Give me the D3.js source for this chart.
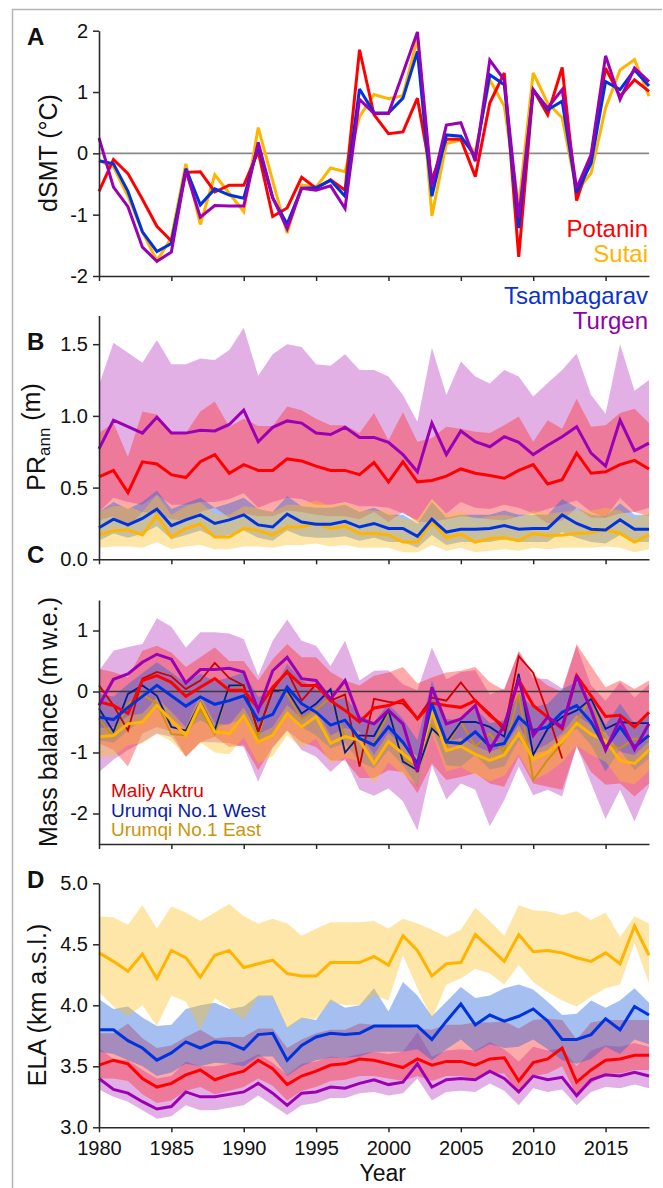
<!DOCTYPE html>
<html>
<head>
<meta charset="utf-8">
<script src="https://cdn.jsdelivr.net/npm/d3@7"></script>
<style>
  body { margin: 0; background: #fff; }
  svg { display: block; }
  text { font-family: "Liberation Sans", Arial, Helvetica, sans-serif; fill: #111; }
</style>
</head>
<body>
<svg id="fig" width="663" height="1188"></svg>
<script>
// ---------------- data (1980–2018) ----------------
const years = d3.range(1980, 2019);
const xTickYears = [1980, 1985, 1990, 1995, 2000, 2005, 2010, 2015];

// A: summer mean temperature anomaly (°C)
const potaninT = [-0.62,-0.10,-0.33,-0.75,-1.19,-1.43,-0.31,-0.30,-0.63,-0.52,-0.52,0.03,-1.03,-0.89,-0.39,-0.57,-0.43,-0.60,1.69,0.63,0.32,0.35,0.90,-0.43,0.23,0.23,-0.38,0.82,1.31,-1.69,1.04,0.63,1.40,-0.77,-0.05,1.39,0.93,1.20,1.01];
const sutaiT   = [-0.12,-0.22,-0.70,-1.28,-1.75,-1.38,-0.17,-1.16,-0.35,-0.65,-0.95,0.42,-0.45,-1.30,-0.52,-0.55,-0.24,-0.30,0.60,0.96,0.89,0.94,1.88,-1.02,0.16,0.22,0.03,1.20,0.77,-0.86,1.31,0.82,0.58,-0.62,-0.32,0.74,1.36,1.53,0.93];
const tsambT   = [-0.12,-0.17,-0.62,-1.28,-1.60,-1.47,-0.25,-0.84,-0.58,-0.68,-0.73,0.12,-0.73,-1.15,-0.57,-0.56,-0.44,-0.70,1.05,0.66,0.66,0.90,1.66,-0.70,0.30,0.28,-0.05,1.28,1.12,-1.22,1.04,0.71,0.85,-0.64,-0.16,1.17,1.04,1.36,1.10];
const turgenT  = [0.25,-0.55,-0.87,-1.53,-1.76,-1.61,-0.28,-1.04,-0.85,-0.86,-0.86,0.18,-0.72,-1.23,-0.57,-0.60,-0.53,-0.90,0.88,0.65,0.65,1.31,1.98,-0.54,0.46,0.50,-0.13,1.52,1.20,-1.05,1.03,0.74,1.04,-0.57,-0.02,1.59,0.88,1.39,1.17];

// B: annual precipitation (m), mean and range
const potaninPR    = [0.575,0.62,0.465,0.68,0.665,0.59,0.57,0.68,0.73,0.60,0.66,0.62,0.62,0.70,0.685,0.65,0.62,0.62,0.59,0.675,0.54,0.68,0.54,0.55,0.58,0.63,0.60,0.585,0.565,0.62,0.66,0.525,0.555,0.74,0.60,0.61,0.66,0.69,0.63];
const potaninPRhi  = [0.88,0.95,0.715,1.03,1.01,0.89,0.88,1.03,1.10,0.925,0.98,0.93,0.93,1.065,1.04,0.98,0.935,0.935,0.88,1.02,0.83,1.025,0.82,0.845,0.925,0.91,0.89,0.88,0.935,0.995,0.82,0.97,0.91,1.12,0.925,0.935,1.02,1.05,0.95];
const potaninPRlo  = [0.27,0.30,0.22,0.33,0.32,0.28,0.27,0.33,0.36,0.29,0.32,0.30,0.30,0.34,0.33,0.31,0.30,0.30,0.28,0.33,0.26,0.33,0.26,0.26,0.28,0.30,0.29,0.28,0.27,0.30,0.32,0.25,0.27,0.36,0.29,0.29,0.32,0.33,0.30];
const sutaiPR      = [0.17,0.20,0.205,0.17,0.305,0.155,0.215,0.245,0.155,0.155,0.215,0.20,0.17,0.225,0.225,0.25,0.215,0.23,0.18,0.18,0.17,0.12,0.12,0.26,0.15,0.175,0.12,0.145,0.15,0.13,0.18,0.165,0.17,0.18,0.185,0.205,0.18,0.12,0.17];
const sutaiPRhi    = [0.33,0.37,0.37,0.33,0.45,0.31,0.37,0.40,0.31,0.31,0.37,0.36,0.33,0.38,0.38,0.41,0.37,0.39,0.34,0.34,0.33,0.28,0.28,0.42,0.31,0.33,0.28,0.30,0.31,0.29,0.34,0.32,0.33,0.34,0.34,0.36,0.34,0.28,0.33];
const sutaiPRlo    = [0.08,0.09,0.09,0.08,0.12,0.07,0.09,0.10,0.07,0.07,0.09,0.09,0.08,0.10,0.10,0.11,0.09,0.10,0.08,0.08,0.08,0.05,0.05,0.10,0.06,0.08,0.05,0.06,0.07,0.06,0.08,0.07,0.08,0.08,0.08,0.09,0.08,0.05,0.07];
const tsambPR      = [0.22,0.28,0.24,0.285,0.35,0.235,0.275,0.31,0.25,0.275,0.31,0.24,0.225,0.315,0.26,0.245,0.245,0.265,0.225,0.25,0.215,0.215,0.16,0.28,0.19,0.21,0.21,0.215,0.235,0.21,0.215,0.215,0.31,0.25,0.21,0.205,0.275,0.21,0.21];
const tsambPRhi    = [0.33,0.40,0.35,0.40,0.48,0.35,0.39,0.43,0.36,0.39,0.43,0.35,0.33,0.44,0.37,0.36,0.36,0.38,0.33,0.36,0.31,0.31,0.25,0.40,0.29,0.31,0.31,0.31,0.34,0.31,0.31,0.31,0.42,0.36,0.31,0.30,0.39,0.31,0.31];
const tsambPRlo    = [0.13,0.18,0.15,0.18,0.23,0.14,0.17,0.20,0.15,0.17,0.20,0.15,0.13,0.20,0.16,0.15,0.15,0.16,0.13,0.15,0.12,0.12,0.08,0.17,0.10,0.12,0.12,0.12,0.14,0.12,0.12,0.12,0.19,0.15,0.12,0.11,0.17,0.12,0.12];
const turgenPR     = [0.77,0.97,0.925,0.88,0.99,0.88,0.88,0.90,0.895,0.94,1.04,0.82,0.92,0.965,0.95,0.88,0.87,0.92,0.85,0.85,0.815,0.73,0.61,0.95,0.73,0.895,0.82,0.785,0.855,0.815,0.73,0.795,0.855,0.925,0.74,0.65,0.97,0.757,0.81];
const turgenPRhi   = [1.215,1.51,1.44,1.37,1.53,1.36,1.36,1.40,1.39,1.46,1.615,1.28,1.43,1.50,1.48,1.36,1.35,1.43,1.32,1.32,1.275,1.145,0.96,1.475,1.145,1.38,1.275,1.225,1.32,1.275,1.135,1.23,1.32,1.435,1.145,1.015,1.50,1.175,1.25];
const turgenPRlo   = [0.33,0.43,0.40,0.38,0.45,0.38,0.38,0.40,0.40,0.42,0.46,0.36,0.40,0.43,0.42,0.38,0.38,0.40,0.37,0.37,0.36,0.32,0.27,0.42,0.32,0.40,0.36,0.35,0.38,0.36,0.32,0.35,0.38,0.41,0.33,0.29,0.43,0.33,0.36];

// C: annual mass balance (m w.e.), modelled mean and range
const potaninMB    = [-0.17,-0.23,-0.36,0.18,0.26,0.15,-0.08,0.07,0.21,0.02,0.02,-0.28,0.07,0.32,0.10,0.10,-0.15,-0.31,-0.50,-0.27,-0.23,-0.14,-0.45,-0.19,-0.23,-0.26,-0.15,-0.39,-0.58,0.19,-0.23,-0.42,-0.61,0.26,-0.07,-0.41,-0.39,-0.58,-0.34];
const potaninMBhi  = [0.37,0.32,0.23,0.67,0.75,0.64,0.40,0.56,0.72,0.50,0.50,0.18,0.53,0.78,0.56,0.56,0.32,0.18,0.10,0.26,0.31,0.40,0.13,0.23,0.31,0.34,0.40,0.15,0.02,0.67,0.29,0.10,-0.01,0.78,0.42,0.07,0.18,0.04,0.18];
const potaninMBlo  = [-0.85,-0.96,-1.23,-0.69,-0.58,-0.66,-1.07,-0.83,-0.74,-0.91,-0.88,-1.29,-0.91,-0.64,-0.83,-0.91,-1.13,-1.13,-1.42,-1.42,-1.29,-1.32,-1.67,-1.18,-1.45,-1.40,-1.34,-1.51,-1.56,-1.07,-1.51,-1.56,-1.61,-0.91,-1.32,-1.53,-1.51,-1.72,-1.51];
const sutaiMB      = [-0.74,-0.72,-0.53,-0.50,-0.23,-0.47,-0.72,-0.20,-0.66,-0.69,-0.40,-0.83,-0.72,-0.36,-0.58,-0.41,-0.85,-0.74,-0.80,-1.18,-0.82,-1.02,-1.20,-0.33,-0.97,-0.90,-1.03,-1.13,-1.04,-0.69,-1.11,-1.00,-0.82,-0.52,-0.70,-0.81,-1.13,-1.18,-0.96];
const sutaiMBhi    = [-0.60,-0.58,-0.40,-0.36,-0.10,-0.33,-0.58,-0.06,-0.52,-0.55,-0.26,-0.70,-0.58,-0.22,-0.44,-0.28,-0.72,-0.60,-0.66,-1.04,-0.68,-0.88,-1.06,-0.19,-0.83,-0.76,-0.89,-0.99,-0.90,-0.55,-0.97,-0.86,-0.68,-0.38,-0.56,-0.67,-0.99,-1.04,-0.82];
const sutaiMBlo    = [-1.08,-1.06,-0.88,-0.85,-0.69,-0.82,-1.06,-0.83,-1.00,-1.03,-0.75,-1.18,-1.06,-0.72,-0.93,-0.77,-1.19,-1.08,-1.14,-1.52,-1.16,-1.36,-1.54,-0.69,-1.31,-1.24,-1.37,-1.47,-1.38,-1.03,-1.45,-1.34,-1.16,-0.88,-1.04,-1.15,-1.47,-1.52,-1.30];
const tsambMB      = [-0.42,-0.46,-0.26,-0.08,0.10,-0.07,-0.24,-0.09,-0.21,-0.15,-0.07,-0.47,-0.375,0.07,-0.20,-0.34,-0.55,-0.47,-0.77,-0.88,-0.58,-0.83,-1.18,-0.20,-0.83,-0.85,-0.66,-0.90,-0.85,-0.42,-0.64,-0.58,-0.34,-0.23,-0.50,-0.93,-0.58,-0.91,-0.72];
const tsambMBhi    = [-0.04,-0.08,0.12,0.30,0.48,0.31,0.14,0.29,0.17,0.23,0.31,-0.09,0.00,0.45,0.18,0.04,-0.17,-0.09,-0.39,-0.50,-0.20,-0.45,-0.80,0.18,-0.45,-0.47,-0.28,-0.52,-0.47,-0.04,-0.26,-0.20,0.04,0.15,-0.12,-0.55,-0.20,-0.53,-0.34];
const tsambMBlo    = [-0.80,-0.84,-0.64,-0.46,-0.28,-0.45,-0.62,-0.47,-0.59,-0.53,-0.45,-0.85,-0.75,-0.31,-0.58,-0.72,-0.93,-0.85,-1.15,-1.26,-0.96,-1.21,-1.56,-0.58,-1.21,-1.23,-1.04,-1.28,-1.23,-0.80,-1.02,-0.96,-0.72,-0.61,-0.88,-1.31,-0.96,-1.29,-1.10];
const turgenMB     = [-0.23,0.20,0.29,0.48,0.61,0.53,0.14,0.36,0.36,0.38,0.32,-0.31,0.34,0.56,0.21,0.18,-0.12,0.18,-0.45,-0.53,-0.31,-0.53,-1.32,0.07,-0.53,-0.45,-0.23,-0.96,-0.55,0.21,-0.72,-0.42,-0.58,0.26,-0.31,-0.96,-0.45,-0.95,-0.53];
const turgenMBhi   = [0.34,0.67,0.73,0.78,1.20,1.06,0.72,0.97,0.97,0.95,0.86,0.26,0.83,1.18,0.83,0.75,0.42,0.83,0.18,0.34,0.35,0.12,0.02,0.72,0.20,0.32,0.35,-0.05,0.05,0.65,0.22,0.20,0.05,0.75,0.10,-0.15,0.15,-0.10,0.12];
const turgenMBlo   = [-1.32,-1.12,-0.96,-0.83,-0.69,-0.74,-1.07,-0.83,-0.83,-0.85,-0.91,-1.48,-0.93,-0.64,-0.96,-1.07,-1.32,-1.10,-1.61,-1.71,-1.59,-1.80,-2.28,-1.21,-1.77,-1.51,-1.61,-2.21,-1.78,-1.23,-1.70,-1.61,-1.72,-0.88,-1.51,-2.09,-1.61,-2.13,-1.56];

// C: observed mass balance of reference glaciers (null = no record)
const aktruObs   = [0.10,-0.23,-0.64,0.21,0.32,0.25,0.04,0.18,0.47,0.22,0.10,-0.66,0.02,0.34,-0.15,0.12,-0.15,-0.05,-1.23,-0.12,-0.17,-0.20,-0.44,-0.10,-0.15,0.15,-0.15,-0.36,-0.64,0.58,0.31,-0.36,-1.10,null,null,null,null,null,null];
const urumqiWObs = [-0.28,-0.66,-0.04,0.10,-0.07,-0.58,-0.64,-0.17,-0.63,0.10,0.10,-0.66,0.02,0.02,-0.36,-0.20,0.04,-1.00,-0.72,-0.73,-0.31,-1.15,-1.29,-0.61,-0.83,-0.50,-0.50,-0.58,-0.74,0.29,-1.04,-0.61,-0.42,-0.31,-0.12,-0.61,-0.50,-0.52,-0.52];
const urumqiEObs = [-0.45,-0.75,-0.20,-0.05,-0.20,-0.70,-0.72,-0.30,-0.70,0.10,0.08,-0.75,0.08,-0.05,-0.45,-0.30,-0.10,-0.75,-0.78,-0.85,-0.35,-1.10,-1.25,-0.55,-0.90,-0.50,-0.90,-0.69,-1.00,-0.04,-1.45,-1.12,-0.85,-0.50,-0.09,-0.85,-0.93,-0.77,-0.80];

// D: equilibrium line altitude (km a.s.l.), mean and range
const potaninELA   = [3.51,3.55,3.52,3.40,3.33,3.36,3.43,3.47,3.39,3.43,3.46,3.55,3.48,3.35,3.42,3.46,3.51,3.52,3.56,3.55,3.52,3.49,3.56,3.51,3.54,3.54,3.51,3.56,3.57,3.38,3.53,3.56,3.65,3.37,3.47,3.55,3.56,3.59,3.59];
const potaninELAhi = [3.77,3.77,3.85,3.73,3.65,3.67,3.74,3.80,3.73,3.74,3.74,3.81,3.81,3.65,3.72,3.77,3.80,3.80,3.85,3.84,3.84,3.83,3.81,3.80,3.84,3.84,3.86,3.86,3.87,3.81,3.88,3.89,3.88,3.72,3.86,3.88,3.88,3.88,3.88];
const potaninELAlo = [3.40,3.40,3.38,3.27,3.20,3.22,3.30,3.33,3.27,3.30,3.33,3.40,3.34,3.22,3.30,3.33,3.38,3.39,3.42,3.42,3.40,3.38,3.42,3.38,3.42,3.42,3.40,3.44,3.44,3.28,3.42,3.44,3.50,3.26,3.36,3.44,3.44,3.47,3.47];
const sutaiELA     = [4.43,4.36,4.28,4.42,4.22,4.45,4.39,4.23,4.41,4.45,4.31,4.34,4.37,4.26,4.24,4.24,4.35,4.35,4.35,4.40,4.33,4.57,4.45,4.24,4.34,4.35,4.58,4.47,4.36,4.58,4.44,4.45,4.43,4.39,4.36,4.43,4.34,4.65,4.41];
const sutaiELAhi   = [4.73,4.72,4.66,4.82,4.63,4.81,4.76,4.69,4.76,4.83,4.73,4.67,4.71,4.67,4.57,4.63,4.68,4.68,4.68,4.69,4.63,4.71,4.67,4.62,4.56,4.62,4.80,4.69,4.57,4.82,4.78,4.77,4.74,4.77,4.70,4.76,4.56,4.73,4.67];
const sutaiELAlo   = [4.11,3.99,3.91,4.00,3.83,4.08,4.03,3.80,4.06,3.98,3.88,4.07,4.07,3.81,3.89,3.89,4.03,4.00,4.00,4.08,4.04,4.41,4.14,3.89,4.17,4.22,4.30,4.26,4.17,4.33,4.19,4.11,4.04,3.99,4.07,4.14,4.17,4.51,4.18];
const tsambELA     = [3.80,3.80,3.71,3.65,3.55,3.61,3.70,3.65,3.70,3.69,3.64,3.76,3.77,3.55,3.67,3.74,3.77,3.76,3.77,3.83,3.83,3.83,3.83,3.72,3.87,4.01,3.84,3.92,3.87,3.91,3.97,3.87,3.72,3.72,3.76,3.89,3.80,3.99,3.92];
const tsambELAhi   = [4.05,3.97,3.99,3.90,3.83,3.84,3.97,4.00,4.02,3.97,3.99,4.08,4.08,3.82,3.90,3.88,4.05,3.98,4.00,4.14,3.95,4.19,4.08,3.91,4.03,4.15,4.06,4.08,4.14,4.17,4.13,4.03,3.92,3.93,4.04,3.98,4.04,4.14,4.02];
const tsambELAlo   = [3.62,3.60,3.55,3.50,3.42,3.45,3.52,3.50,3.53,3.52,3.50,3.58,3.58,3.42,3.50,3.55,3.57,3.57,3.58,3.62,3.62,3.62,3.64,3.55,3.64,3.72,3.62,3.68,3.65,3.66,3.72,3.64,3.55,3.52,3.56,3.66,3.60,3.72,3.68];
const turgenELA    = [3.40,3.31,3.28,3.21,3.15,3.17,3.29,3.25,3.25,3.27,3.29,3.36,3.28,3.18,3.28,3.29,3.33,3.32,3.36,3.39,3.35,3.37,3.52,3.33,3.39,3.40,3.39,3.46,3.40,3.29,3.42,3.39,3.41,3.26,3.39,3.43,3.42,3.45,3.42];
const turgenELAhi  = [3.65,3.56,3.55,3.47,3.40,3.42,3.54,3.50,3.50,3.52,3.54,3.60,3.53,3.43,3.52,3.54,3.58,3.57,3.60,3.62,3.60,3.62,3.78,3.58,3.63,3.64,3.63,3.70,3.64,3.54,3.66,3.63,3.65,3.50,3.63,3.67,3.66,3.69,3.66];
const turgenELAlo  = [3.31,3.25,3.21,3.14,3.07,3.09,3.18,3.14,3.14,3.16,3.18,3.26,3.18,3.10,3.18,3.20,3.24,3.24,3.28,3.29,3.26,3.28,3.40,3.22,3.29,3.30,3.29,3.36,3.30,3.18,3.32,3.29,3.31,3.18,3.29,3.33,3.32,3.35,3.32];

// ---------------- styling ----------------
const col = { potanin: "#ff0000", sutai: "#ffb400", tsamb: "#0033e0", turgen: "#9a00b4" };
const band = { potanin: "#ff2a2a", sutai: "#fcc025", tsamb: "#1e5fd9", turgen: "#b93ac0" };
const bandOpacity = 0.4;
const obsCol = { aktru: "#cc0000", west: "#00208f", east: "#c89400" };

const svg = d3.select("#fig");

// outer frame of the figure
svg.append("path")
  .attr("d", "M12.5,1188 V9.5 H662")
  .attr("fill", "none").attr("stroke", "#b4b4b4").attr("stroke-width", 1.5);

const x = d3.scaleLinear().domain([1980, 2018]).range([99, 649]);

const panels = {
  A: { y: d3.scaleLinear().domain([-2, 2]).range([276, 30.7]),   ticks: [-2, -1, 0, 1, 2],      fmt: d => String(d) },
  B: { y: d3.scaleLinear().domain([0, 1.7]).range([559.3, 315.5]), ticks: [0, 0.5, 1, 1.5],     fmt: d3.format(".1f") },
  C: { y: d3.scaleLinear().domain([-2.5, 1.5]).range([844, 600]),  ticks: [-2, -1, 0, 1],        fmt: d => String(d) },
  D: { y: d3.scaleLinear().domain([3, 5]).range([1127.3, 883.3]),  ticks: [3, 3.5, 4, 4.5, 5],   fmt: d3.format(".1f") }
};

function drawAxes(p, showYears) {
  const y = p.y;
  const gy = svg.append("g").attr("transform", `translate(${x(1980)},0)`)
    .call(d3.axisLeft(y).tickValues(p.ticks).tickFormat(p.fmt).tickSize(6).tickPadding(5).tickSizeOuter(0));
  const gx = svg.append("g").attr("transform", `translate(0,${y.range()[0]})`)
    .call(d3.axisBottom(x).tickValues(xTickYears).tickFormat(showYears ? d3.format("d") : "").tickSize(5).tickPadding(8.5).tickSizeOuter(0));
  [gy, gx].forEach(g => {
    g.select(".domain").attr("stroke", "#2a2a2a").attr("stroke-width", 1.6);
    g.selectAll(".tick line").attr("stroke", "#2a2a2a").attr("stroke-width", 1.5);
    g.selectAll(".tick text").attr("fill", "#111").style("font-size", "20px")
      .style("font-family", '"Liberation Sans", Arial, sans-serif');
  });
}

function drawBand(y, lo, hi, fill) {
  const area = d3.area()
    .x((d, i) => x(years[i]))
    .y0((d, i) => y(lo[i]))
    .y1((d, i) => y(hi[i]));
  svg.append("path").datum(lo).attr("d", area)
    .attr("fill", fill).attr("fill-opacity", bandOpacity).attr("stroke", "none");
}

function drawLine(y, vals, stroke, width) {
  const line = d3.line()
    .defined(d => d !== null)
    .x((d, i) => x(years[i]))
    .y(d => y(d));
  svg.append("path").datum(vals).attr("d", line)
    .attr("fill", "none").attr("stroke", stroke).attr("stroke-width", width)
    .attr("stroke-linejoin", "miter").attr("stroke-miterlimit", 3);
}

function zeroLine(y, stroke, width) {
  svg.append("line")
    .attr("x1", x(1980)).attr("x2", x(2018))
    .attr("y1", y(0)).attr("y2", y(0))
    .attr("stroke", stroke).attr("stroke-width", width);
}

function yTitle(xPos, yPos, build) {
  const t = svg.append("text")
    .attr("transform", `translate(${xPos},${yPos}) rotate(-90)`)
    .attr("text-anchor", "middle").style("font-size", "25px");
  build(t);
}

function panelLetter(letter, xPos, yPos) {
  svg.append("text").attr("x", xPos).attr("y", yPos)
    .style("font-size", "24px").style("font-weight", "bold").text(letter);
}

// ---------------- A: temperature anomalies ----------------
{
  const y = panels.A.y;
  zeroLine(y, "#8a8a8a", 1.8);
  drawLine(y, sutaiT, col.sutai, 3);
  drawLine(y, potaninT, col.potanin, 3);
  drawLine(y, tsambT, col.tsamb, 3);
  drawLine(y, turgenT, col.turgen, 3);
  drawAxes(panels.A, false);
  panelLetter("A", 27, 45);
  yTitle(57, 153, t => t.text("dSMT (°C)"));
}

// ---------------- B: precipitation ----------------
{
  const y = panels.B.y;
  drawBand(y, turgenPRlo, turgenPRhi, band.turgen);
  drawBand(y, potaninPRlo, potaninPRhi, band.potanin);
  drawBand(y, tsambPRlo, tsambPRhi, band.tsamb);
  drawBand(y, sutaiPRlo, sutaiPRhi, band.sutai);
  drawLine(y, sutaiPR, col.sutai, 3);
  drawLine(y, tsambPR, col.tsamb, 3);
  drawLine(y, potaninPR, col.potanin, 3);
  drawLine(y, turgenPR, col.turgen, 3);
  drawAxes(panels.B, false);
  panelLetter("B", 27, 350);
  yTitle(45, 437, t => {
    t.append("tspan").text("PR");
    t.append("tspan").attr("dy", "0.28em").style("font-size", "17px").text("ann");
    t.append("tspan").attr("dy", "-0.4em").text(" (m)");
  });
}

// legend shared by A and B (glacier names)
const legendA = [
  { name: "Potanin",     color: col.potanin, y: 237 },
  { name: "Sutai",       color: col.sutai,   y: 262 },
  { name: "Tsambagarav", color: "#0a32d0",   y: 304 },
  { name: "Turgen",      color: "#9000aa",   y: 329 }
];
svg.append("g").selectAll("text").data(legendA).join("text")
  .attr("x", 648).attr("y", d => d.y).attr("text-anchor", "end")
  .style("font-size", "24px").style("fill", d => d.color).text(d => d.name);

// ---------------- C: mass balance ----------------
{
  const y = panels.C.y;
  drawBand(y, turgenMBlo, turgenMBhi, band.turgen);
  drawBand(y, potaninMBlo, potaninMBhi, band.potanin);
  drawBand(y, tsambMBlo, tsambMBhi, band.tsamb);
  drawBand(y, sutaiMBlo, sutaiMBhi, band.sutai);
  zeroLine(y, "#3a3a3a", 1.4);
  drawLine(y, urumqiEObs, obsCol.east, 1.8);
  drawLine(y, urumqiWObs, obsCol.west, 1.8);
  drawLine(y, aktruObs, obsCol.aktru, 1.8);
  drawLine(y, sutaiMB, col.sutai, 3);
  drawLine(y, potaninMB, col.potanin, 3);
  drawLine(y, tsambMB, col.tsamb, 3);
  drawLine(y, turgenMB, col.turgen, 3);
  drawAxes(panels.C, false);
  panelLetter("C", 27, 563);
  yTitle(57, 722, t => t.text("Mass balance (m w.e.)"));

  const legendC = [
    { name: "Maliy Aktru",      color: "#e00000", y: 797 },
    { name: "Urumqi No.1 West", color: "#0a1ea0", y: 816.5 },
    { name: "Urumqi No.1 East", color: "#c8960a", y: 836 }
  ];
  svg.append("g").selectAll("text").data(legendC).join("text")
    .attr("x", 111).attr("y", d => d.y)
    .style("font-size", "19px").style("fill", d => d.color).text(d => d.name);
}

// ---------------- D: ELA ----------------
{
  const y = panels.D.y;
  drawBand(y, turgenELAlo, turgenELAhi, band.turgen);
  drawBand(y, potaninELAlo, potaninELAhi, band.potanin);
  drawBand(y, tsambELAlo, tsambELAhi, band.tsamb);
  drawBand(y, sutaiELAlo, sutaiELAhi, band.sutai);
  drawLine(y, sutaiELA, col.sutai, 3);
  drawLine(y, tsambELA, col.tsamb, 3);
  drawLine(y, potaninELA, col.potanin, 3);
  drawLine(y, turgenELA, col.turgen, 3);
  drawAxes(panels.D, true);
  panelLetter("D", 27, 888);
  yTitle(46, 1005, t => t.text("ELA (km a.s.l.)"));

  svg.append("text").attr("x", x(1999.6)).attr("y", 1181)
    .attr("text-anchor", "middle").style("font-size", "23px").text("Year");
}
</script>
</body>
</html>
